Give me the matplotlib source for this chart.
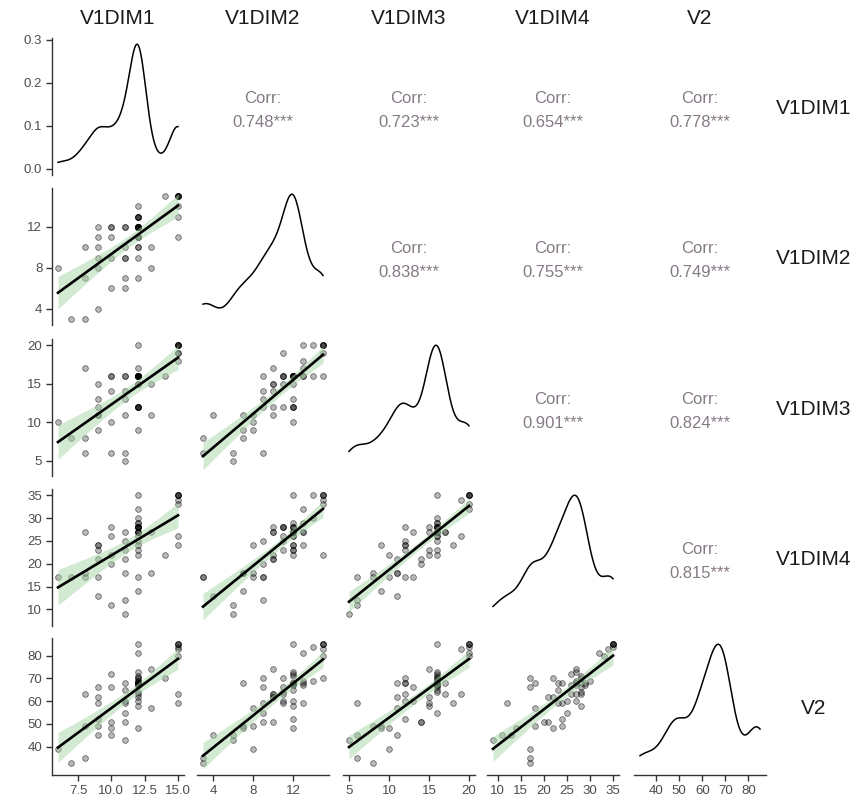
import numpy as np
import matplotlib.pyplot as plt

plt.rcParams['font.family'] = ['Liberation Sans', 'DejaVu Sans']

# variables (one entry per respondent)
var_names = ["V1DIM1", "V1DIM2", "V1DIM3", "V1DIM4", "V2"]

V1DIM1 = [6, 7, 8, 8, 8, 9, 9, 9, 9, 9, 9, 10, 10, 10, 10, 10,
          11, 11, 11, 11, 11, 11, 11,
          12, 12, 12, 12, 12, 12, 12, 12, 12, 12, 12, 12, 12, 12, 12, 12, 12, 12, 12, 12, 12, 12,
          13, 13, 14, 15, 15, 15, 15, 15, 15, 15, 15]
V1DIM2 = [8, 3, 3, 7, 10, 4, 8, 9, 10, 11, 12, 6, 9, 12, 11, 12,
          6, 9, 7, 10, 12, 9, 12,
          7, 9, 10, 11, 12, 11, 12, 12, 12, 13, 12, 12, 13, 12, 11, 12, 14, 13, 12, 10, 13, 12,
          8, 10, 15, 13, 11, 15, 15, 15, 15, 15, 14]
V1DIM3 = [10, 8, 6, 8, 17, 11, 9, 13, 11, 15, 12, 6, 14, 10, 16, 16,
          5, 6, 11, 14, 13, 16, 16,
          9, 12, 15, 12, 12, 16, 15, 16, 16, 16, 16, 16, 16, 12, 16, 16, 16, 20, 16, 12, 17, 16,
          11, 15, 16, 18, 19, 20, 19, 20, 20, 20, 20]
V1DIM4 = [17, 17, 17, 18, 27, 13, 24, 17, 21, 23, 24, 11, 20, 22, 28, 26,
          9, 12, 18, 21, 27, 25, 23,
          14, 17, 22, 25, 23, 28, 28, 27, 28, 27, 29, 27, 29, 24, 28, 28, 30, 32, 35, 28, 27, 26,
          18, 27, 22, 24, 26, 33, 34, 35, 35, 35, 35]
V2 = [39, 33, 35, 49, 63, 45, 49, 66, 62, 59, 52, 45, 51, 48, 66, 72,
      43, 59, 68, 51, 60, 55, 65,
      48, 70, 62, 60, 68, 64, 58, 67, 68, 69, 68, 73, 67, 68, 70, 71, 69, 81, 85, 63, 68, 67,
      57, 74, 70, 59, 63, 80, 83, 85, 85, 85, 84]

# correlation labels of the upper triangle, row by row
corr_row1 = ["0.748***", "0.723***", "0.654***", "0.778***"]
corr_row2 = ["0.838***", "0.755***", "0.749***"]
corr_row3 = ["0.901***", "0.824***"]
corr_row4 = ["0.815***"]
corr_rows = [corr_row1, corr_row2, corr_row3, corr_row4]

# axis ticks
var_ticks = [[7.5, 10, 12.5, 15], [4, 8, 12], [5, 10, 15, 20],
             [10, 15, 20, 25, 30, 35], [40, 50, 60, 70, 80]]
var_tick_labels = [["7.5", "10.0", "12.5", "15.0"], ["4", "8", "12"],
                   ["5", "10", "15", "20"],
                   ["10", "15", "20", "25", "30", "35"],
                   ["40", "50", "60", "70", "80"]]
dens_ticks = [0.0, 0.1, 0.2, 0.3]
dens_tick_labels = ["0.0", "0.1", "0.2", "0.3"]

data = [np.array(v, dtype=float) for v in [V1DIM1, V1DIM2, V1DIM3, V1DIM4, V2]]
n_var = len(data)

W, H = 862, 809
fig = plt.figure(figsize=(W / 100, H / 100), dpi=100)

col_left = [52, 197, 343, 487, 634]
row_top = [38, 188, 339, 489, 638]
pw, ph = 132, 137

axis_col = "#333333"
tick_col = "#4d4d4d"


def kde(x):
    n = len(x)
    q75, q25 = np.percentile(x, [75, 25])
    bw = 0.9 * min(np.std(x, ddof=1), (q75 - q25) / 1.34) * n ** -0.2
    grid = np.linspace(x.min(), x.max(), 512)
    d = np.exp(-0.5 * ((grid[:, None] - x[None, :]) / bw) ** 2).sum(1)
    d /= n * bw * np.sqrt(2 * np.pi)
    return grid, d


def lm_band(x, y):
    n = len(x)
    b, a = np.polyfit(x, y, 1)
    grid = np.linspace(x.min(), x.max(), 80)
    fit = a + b * grid
    resid = y - (a + b * x)
    s = np.sqrt((resid ** 2).sum() / (n - 2))
    sxx = ((x - x.mean()) ** 2).sum()
    se = s * np.sqrt(1 / n + (grid - x.mean()) ** 2 / sxx)
    t = 2.005
    return grid, fit, fit - t * se, fit + t * se


def expand(lo, hi):
    r = hi - lo
    return lo - 0.05 * r, hi + 0.05 * r


# y ranges per row for scatter panels
row_ylim = []
for i in range(n_var):
    lo, hi = data[i].min(), data[i].max()
    for j in range(i):
        g, f, l, u = lm_band(data[j], data[i])
        lo, hi = min(lo, l.min()), max(hi, u.max())
    row_ylim.append(expand(lo, hi))

for i in range(n_var):
    for j in range(n_var):
        ax = fig.add_axes([col_left[j] / W, 1 - (row_top[i] + ph) / H, pw / W, ph / H])
        for s in ax.spines.values():
            s.set_visible(False)
        ax.set_xlim(*expand(data[j].min(), data[j].max()))
        ax.tick_params(length=4, width=1, color=axis_col, labelcolor=tick_col,
                       labelsize=9.5, pad=3)
        ax.set_xticks([])
        ax.set_yticks([])
        if j > i:
            ax.set_ylim(0, 1)
            ax.text(0.5, 0.47, "Corr:\n" + corr_rows[i][j - i - 1], ha="center", va="center",
                    fontsize=12, color="#857a86", linespacing=1.75,
                    transform=ax.transAxes)
        elif i == j:
            g, d = kde(data[i])
            ax.plot(g, d, color="black", lw=1.1)
            ax.set_ylim(-0.05 * d.max(), 1.05 * d.max())
            if i == 0:
                ax.set_yticks(dens_ticks)
                ax.set_yticklabels(dens_tick_labels)
                ax.spines["left"].set_visible(True)
        else:
            x, y = data[j], data[i]
            ax.scatter(x, y, s=17, facecolor=(0, 0, 0, 0.28), edgecolor=(0, 0, 0, 0.5),
                       linewidths=0.6, zorder=1)
            g, f, l, u = lm_band(x, y)
            ax.fill_between(g, l, u, color="#a6d4a6", alpha=0.5, lw=0, zorder=2)
            ax.plot(g, f, color="black", lw=1.9, zorder=3)
            ax.set_ylim(*row_ylim[i])
            if j == 0:
                ax.set_yticks(var_ticks[i])
                ax.set_yticklabels(var_tick_labels[i])
                ax.spines["left"].set_visible(True)
        if i == n_var - 1:
            ax.set_xticks(var_ticks[j])
            ax.set_xticklabels(var_tick_labels[j])
            ax.spines["bottom"].set_visible(True)
        for s in ax.spines.values():
            s.set_color(axis_col)
            s.set_linewidth(1)

# strip labels
for j in range(n_var):
    fig.text((col_left[j] + pw / 2) / W, 1 - 18 / H, var_names[j], ha="center", va="center",
             fontsize=15, color="#1a1a1a")
for i in range(n_var):
    fig.text(814 / W, 1 - (row_top[i] + ph / 2 + 2) / H, var_names[i], ha="center", va="center",
             fontsize=15, color="#1a1a1a")

fig.savefig("out.png", dpi=100, facecolor="white")
